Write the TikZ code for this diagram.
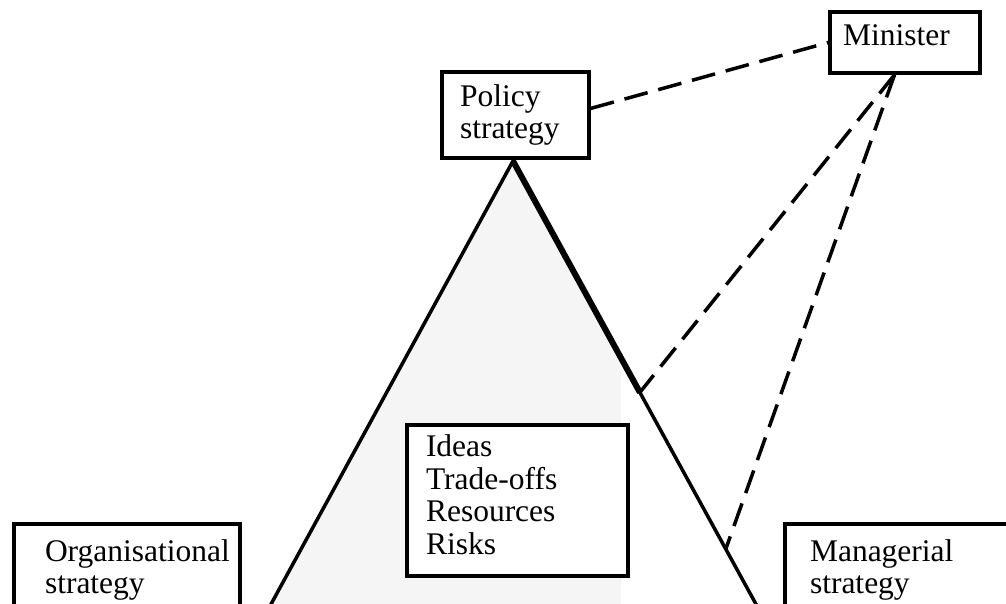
\documentclass[tikz,border=0pt]{standalone}
\usepackage{fontspec}
\setmainfont{Liberation Serif}
\usetikzlibrary{calc}
\tikzstyle{text box}=[
    draw = black,
    line width = 3.5pt,
    fill = white,
    align = left,
    font = \fontsize{31.5}{32.5}\selectfont
]

\begin{document}
\begin{tikzpicture}[x=1pt, y=-1pt, dashlink/.style = {line width=3.5pt, dash pattern=on 24pt off 11pt}]
        \useasboundingbox (0,0) rectangle (1006,603);
        \clip (0,0) rectangle (1006,603);

        \coordinate (apex) at (513,161);
        \coordinate (left base) at (270,606);
        \coordinate (right base) at (757,606);
        \coordinate (upper meet) at ($(apex)!0.52!(right base)$);
        \coordinate (lower meet) at ($(apex)!0.872!(right base)$);

        \begin{scope}
            \clip (0,0) rectangle (621,603);
            \fill[black!4] (apex) -- (left base) -- (right base) -- cycle;
        \end{scope}
        \draw[line width=3.5pt] (right base) -- (apex) -- (left base);
        \draw[line width=6pt] (apex) -- (upper meet);

        \node[text box, minimum width=147pt, minimum height=86pt, inner xsep=18pt, text width=111pt] (policy) at (515.5,115) {Policy\\strategy};
        \node[text box, minimum width=150pt, minimum height=61pt, inner xsep=13pt, text width=124pt] (minister) at (905,42.5) {Minister\rule[-15pt]{0pt}{0pt}};
        \node[text box, minimum width=221pt, minimum height=151pt, inner xsep=19pt, text width=183pt] (ideas) at (517.5,500.5) {Ideas\\Trade-offs\\Resources\\Risks\rule[-12pt]{0pt}{0pt}};
        \node[text box, minimum width=226pt, minimum height=92pt, inner xsep=31pt, text width=164pt] (organisational) at (127,570) {Organisational\\strategy};
        \node[text box, minimum width=240pt, minimum height=92pt, inner xsep=25pt, text width=190pt] (managerial) at (905,570) {Managerial\\strategy};

        \draw[dashlink] (policy.5) -- (minister.west);
        \draw[dashlink] (minister.-108) -- (upper meet);
        \draw[dashlink] (minister.-108) -- (lower meet);

    \end{tikzpicture}
\end{document}
